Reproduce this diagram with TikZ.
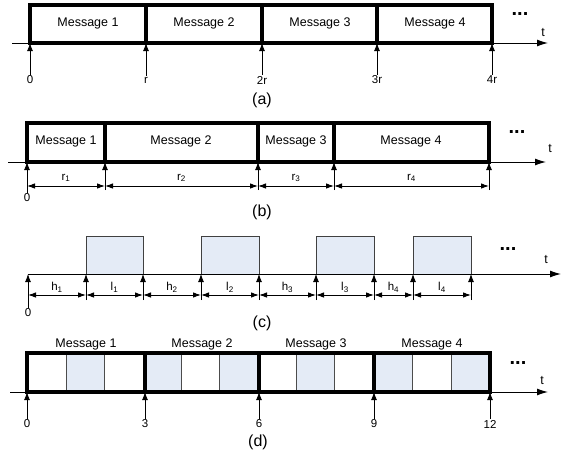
\documentclass[tikz,border=0pt]{standalone}
\usepackage{fontspec}
\setmainfont{Liberation Sans}
\usetikzlibrary{arrows.meta,calc}
\definecolor{slotblue}{RGB}{228,235,246}
\tikzset{
  msgbox/.style={line width=3.2pt},
  axisline/.style={line width=1pt, -{Latex[length=11pt,width=7pt]}},
  tickarrow/.style={line width=0.9pt, -{Latex[length=8pt,width=6pt]}},
  dimarrow/.style={line width=0.9pt, {Latex[length=8pt,width=5.5pt]}-{Latex[length=8pt,width=5.5pt]}},
  msglabel/.style={font=\fontsize{12.5}{14}\selectfont},
  ticklabel/.style={font=\fontsize{11.5}{13}\selectfont, inner sep=1pt},
  panellabel/.style={font=\fontsize{16}{18}\selectfont},
  dots/.style={font=\fontsize{20}{20}\selectfont\bfseries},
  slot/.style={fill=slotblue, draw=black!75, line width=0.9pt},
  cell/.style={draw=black!70, line width=0.9pt}
}
\begin{document}
\begin{tikzpicture}[x=1pt,y=-1pt]
\useasboundingbox (0,0) rectangle (563,456);
% ---------- (a) fixed length messages
\coordinate (aS) at (12,43);
\coordinate (aE) at (548,43);
\foreach \i/\x in {0/30,1/146,2/262,3/377,4/492}
  \coordinate (a\i) at (\x,43);
\draw[axisline] (aS) -- (aE);
\draw[msgbox] (a0) rectangle (492,5);
\foreach \i in {1,2,3}
  \draw[msgbox] (a\i) -- ++(0,-38);
\foreach \i/\x in {1/88,2/204,3/320,4/435}
  \node[msglabel] (am\i) at (\x,23) {Message \i};
\foreach \i/\lab in {0/0,1/r,2/2r,3/3r,4/4r}{
  \node[ticklabel] (al\i) at (a\i |- 0,80) {\lab};
  \draw[tickarrow] (al\i.north) -- (a\i);
}
\node[panellabel] (pa) at (262,100) {(a)};
\node[dots] (adots) at (520,14) {...};
\node[msglabel] (at) at (543,33) {t};
% ---------- (b) variable length messages
\coordinate (bS) at (8,162);
\coordinate (bE) at (546,162);
\foreach \i/\x in {0/27,1/105,2/258,3/334,4/489}{
  \coordinate (b\i) at (\x,162);
  \coordinate (bd\i) at (\x,186);
}
\draw[axisline] (bS) -- (bE);
\draw[msgbox] (b0) rectangle (489,123);
\foreach \i in {1,2,3}
  \draw[msgbox] (b\i) -- ++(0,-39);
\foreach \i/\x in {1/66,2/181,3/296,4/411}
  \node[msglabel] (bm\i) at (\x,141) {Message \i};
\node[ticklabel] (bl0) at (27,198) {0};
\draw[tickarrow] (bl0.north) -- (b0);
\foreach \i in {1,2,3,4}
  \draw[tickarrow] (b\i |- 0,190) -- (b\i);
\foreach \i/\j in {0/1,1/2,2/3,3/4}{
  \draw[dimarrow] (bd\i) -- (bd\j);
  \node[ticklabel] (br\j) at ($(bd\i)!0.5!(bd\j)+(0,-8)$) {r\textsubscript{\j}};
}
\node[panellabel] (pb) at (262,212) {(b)};
\node[dots] (bdots) at (517,132) {...};
\node[msglabel] (bt) at (550,149) {t};
% ---------- (c) on/off slots
\coordinate (cS) at (28,274);
\coordinate (cE) at (561,274);
\foreach \i/\x in {0/28,1/86,2/143,3/201,4/259,5/316,6/374,7/413,8/471}{
  \coordinate (c\i) at (\x,274);
  \coordinate (cd\i) at (\x,295);
}
\foreach \i/\j in {1/2,3/4,5/6,7/8}
  \draw[slot] (c\i) rectangle (c\j |- 0,236);
\draw[axisline] (cS) -- (cE);
\node[ticklabel] (cl0) at (28,313) {0};
\draw[tickarrow] (cl0.north) -- (c0);
\foreach \i in {1,...,8}
  \draw[tickarrow] (c\i |- 0,300) -- (c\i);
\foreach \i/\j/\lab in {0/1/h\textsubscript{1},1/2/l\textsubscript{1},2/3/h\textsubscript{2},3/4/l\textsubscript{2},4/5/h\textsubscript{3},5/6/l\textsubscript{3},6/7/h\textsubscript{4},7/8/l\textsubscript{4}}{
  \draw[dimarrow] (cd\i) -- (cd\j);
  \node[ticklabel] (cl\j) at ($(cd\i)!0.5!(cd\j)+(0,-8)$) {\lab};
}
\node[panellabel] (pc) at (262,323) {(c)};
\node[dots] (cdots) at (508,249) {...};
\node[msglabel] (ct) at (546,260) {t};
% ---------- (d) messages split into slots
\coordinate (dS) at (10,392);
\coordinate (dE) at (548,392);
\foreach \i/\x in {0/27,1/145,2/259,3/374,4/490}
  \coordinate (d\i) at (\x,392);
\foreach \x/\y in {66/104,145/181,219/259,296/334,374/412,451/490}
  \fill[slotblue] (\x,392) rectangle (\y,353);
\foreach \x in {66,104,181,219,296,334,412,451}
  \draw[cell] (\x,392) -- (\x,353);
\draw[axisline] (dS) -- (dE);
\draw[msgbox] (d0) rectangle (490,353);
\foreach \i in {1,2,3}
  \draw[msgbox] (d\i) -- ++(0,-39);
\foreach \i/\x in {1/86,2/202,3/316,4/432}
  \node[msglabel] (dm\i) at (\x,344) {Message \i};
\foreach \i/\lab in {0/0,1/3,2/6,3/9,4/12}{
  \node[ticklabel] (dl\i) at (d\i |- 0,424) {\lab};
  \draw[tickarrow] (dl\i.north) -- (d\i);
}
\node[panellabel] (pd) at (258,442) {(d)};
\node[dots] (ddots) at (518,363) {...};
\node[msglabel] (dt) at (542,381) {t};
\end{tikzpicture}
\end{document}
